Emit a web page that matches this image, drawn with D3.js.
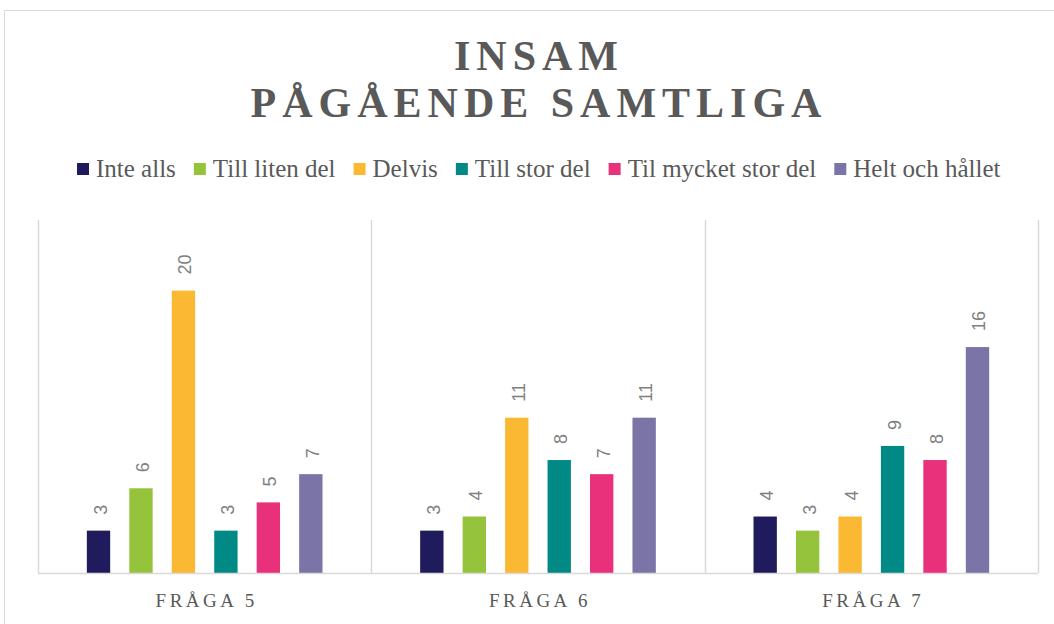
<!DOCTYPE html>
<html>
<head>
<meta charset="utf-8">
<script src="https://cdn.jsdelivr.net/npm/d3@7"></script>
<style>
  body { margin: 0; background: #fff; }
  svg { display: block; }
</style>
</head>
<body>
<div id="chart"></div>
<script>
// data
var categories = ["FRÅGA 5", "FRÅGA 6", "FRÅGA 7"];
var seriesNames = ["Inte alls", "Till liten del", "Delvis", "Till stor del", "Til mycket stor del", "Helt och hållet"];
var seriesColors = ["#201b5c", "#96c33c", "#fbb933", "#008985", "#e8317a", "#7b74a6"];
var inteAlls = [3, 3, 4];
var tillLitenDel = [6, 4, 3];
var delvis = [20, 11, 4];
var tillStorDel = [3, 8, 9];
var tilMycketStorDel = [5, 7, 8];
var heltOchHallet = [7, 11, 16];

var seriesValues = [inteAlls, tillLitenDel, delvis, tillStorDel, tilMycketStorDel, heltOchHallet];

var width = 1054, height = 624;
var margin = {left: 38, right: 16, top: 220, bottom: 51};
var textGray = "#595959";

var svg = d3.select("#chart")
  .append("svg")
    .attr("width", width)
    .attr("height", height);

// outer frame (right and bottom run off the picture)
svg.append("rect")
  .attr("x", 4.5).attr("y", 10.5)
  .attr("width", width + 20).attr("height", height + 20)
  .attr("fill", "none")
  .attr("stroke", "#d9d9d9");

// title
var title = svg.append("text")
  .attr("text-anchor", "middle")
  .attr("fill", textGray)
  .style("font-family", "'Liberation Serif', 'DejaVu Serif', serif")
  .style("font-weight", "bold")
  .style("font-size", "42px")
  .style("letter-spacing", "6px");
title.append("tspan").attr("x", 539).attr("y", 70).text("INSAM");
title.append("tspan").attr("x", 539).attr("y", 117).text("PÅGÅENDE SAMTLIGA");

// legend, laid out left to right from measured text widths
var legend = svg.append("g");
var lx = 77;
seriesNames.forEach(function(name, i){
  legend.append("rect")
    .attr("x", lx).attr("y", 163)
    .attr("width", 12).attr("height", 12)
    .attr("fill", seriesColors[i]);
  var t = legend.append("text")
    .attr("x", lx + 19).attr("y", 177)
    .attr("fill", textGray)
    .style("font-family", "'Liberation Serif', serif")
    .style("font-size", "25px")
    .text(name);
  lx = lx + 19 + t.node().getComputedTextLength() + 18;
});

var plotLeft = margin.left, plotRight = width - margin.right;
var plotTop = margin.top, plotBottom = height - margin.bottom;

var x0 = d3.scaleBand()
  .domain(categories)
  .range([plotLeft, plotRight])
  .padding(0);

var x1 = d3.scaleBand()
  .domain(d3.range(seriesNames.length))
  .range([0, x0.bandwidth()])
  .paddingInner(0.45)
  .paddingOuter(1.15);

var y = d3.scaleLinear()
  .domain([0, 25])
  .range([plotBottom, plotTop]);

// vertical dividers between categories
var dividers = d3.range(categories.length + 1).map(function(i){ return plotLeft + i * x0.bandwidth(); });
svg.append("g").selectAll("line")
  .data(dividers)
  .enter().append("line")
    .attr("x1", function(d){ return Math.round(d) + 0.5; })
    .attr("x2", function(d){ return Math.round(d) + 0.5; })
    .attr("y1", plotTop).attr("y2", plotBottom)
    .attr("stroke", "#d9d9d9")
    .attr("stroke-width", 1.5);

// bars
var groups = svg.append("g").selectAll("g")
  .data(categories)
  .enter().append("g")
    .attr("transform", function(d){ return "translate(" + x0(d) + ",0)"; });

groups.each(function(cat, ci){
  var g = d3.select(this);
  seriesValues.forEach(function(vals, si){
    var v = vals[ci];
    g.append("rect")
      .attr("x", x1(si))
      .attr("y", y(v))
      .attr("width", x1.bandwidth())
      .attr("height", y(0) - y(v))
      .attr("fill", seriesColors[si]);
    var tx = x1(si) + x1.bandwidth() / 2 + 8;
    var ty = y(v) - 16;
    g.append("text")
      .attr("transform", "translate(" + tx + "," + ty + ") rotate(-90)")
      .attr("fill", "#7f7f7f")
      .style("font-family", "'Liberation Sans', Arial, sans-serif")
      .style("font-size", "18px")
      .text(v);
  });
});

// baseline
svg.append("line")
  .attr("x1", plotLeft).attr("x2", plotRight)
  .attr("y1", plotBottom + 0.5).attr("y2", plotBottom + 0.5)
  .attr("stroke", "#d9d9d9")
  .attr("stroke-width", 1.5);

// category labels
svg.append("g").selectAll("text")
  .data(categories)
  .enter().append("text")
    .attr("x", function(d){ return x0(d) + x0.bandwidth() / 2 + 2; })
    .attr("y", 607)
    .attr("text-anchor", "middle")
    .attr("fill", textGray)
    .style("font-family", "'Liberation Serif', serif")
    .style("font-size", "19px")
    .style("letter-spacing", "3.5px")
    .text(function(d){ return d; });
</script>
</body>
</html>
